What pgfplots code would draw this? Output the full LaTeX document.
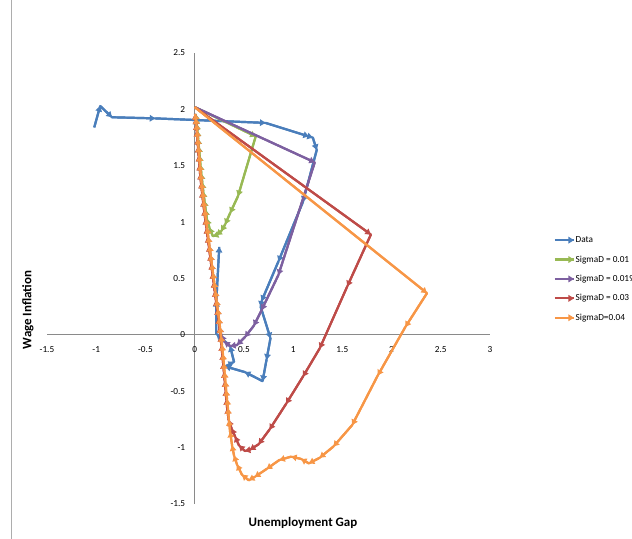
\documentclass[border=0pt]{standalone}
\usepackage{pgfplots}
\pgfplotsset{compat=1.18}
\usepackage{fontspec}
\setmainfont{Carlito}
\usetikzlibrary{decorations.pathreplacing, arrows.meta}
\definecolor{cData}{HTML}{4A7EBB}
\definecolor{cG}{HTML}{98B954}
\definecolor{cP}{HTML}{7D60A0}
\definecolor{cR}{HTML}{BE4B48}
\definecolor{cO}{HTML}{F79646}
\definecolor{axgray}{HTML}{8A8A8A}
\tikzset{
 seg/.style={line width=2.2bp, line join=round, postaction={decorate},
  decoration={show path construction,
   lineto code={\draw[#1, line width=2.2bp, line join=round, -{Triangle[length=5.5bp,width=6.5bp]}] (\tikzinputsegmentfirst) -- (\tikzinputsegmentlast);}}}
}
\begin{document}
\begin{tikzpicture}[x=1bp,y=1bp]
\path[use as bounding box] (0,0) rectangle (632,539);
\draw[axgray!70, line width=0.6bp] (11,0) -- (11,539);
\begin{axis}[
  at={(47bp,35bp)}, anchor=south west,
  scale only axis, width=443bp, height=451bp,
  xmin=-1.5, xmax=3, ymin=-1.5, ymax=2.5,
  axis lines=middle,
  axis line style={draw=axgray, line width=0.75bp, -},
  hide obscured x ticks=false, hide obscured y ticks=false,
  xtick={-1.5,-1,-0.5,0,0.5,1,1.5,2,2.5,3},
  xticklabels={-1.5,-1,-0.5,0,0.5,1,1.5,2,2.5,3},
  ytick={-1.5,-1,-0.5,0,0.5,1,1.5,2,2.5},
  yticklabels={-1.5,-1,-0.5,0,0.5,1,1.5,2,2.5},
  major tick length=0pt,
  tick label style={font=\fontsize{9.3}{11}\selectfont, text=black},
  xticklabel style={anchor=north, yshift=-8bp},
  yticklabel style={anchor=east, xshift=-6bp},
  legend image code/.code={\draw[#1] (0bp,0bp) -- (19bp,0bp);},
  legend style={at={(1.137,0.499)}, anchor=west, draw=none, fill=none,
    font=\fontsize{9.3}{11}\selectfont, row sep=9.2bp,
    nodes={inner sep=0.6bp, text height=7bp, text depth=2bp}},
  legend cell align=left,
]
% Data
\addplot[color=cData, seg=cData] coordinates {
(-1.02,1.84) (-0.96,2.03) (-0.84,1.93) (-0.40,1.92) (0.72,1.88) (1.16,1.76)
(1.20,1.75) (1.24,1.64) (1.10,1.18) (0.85,0.65) (0.68,0.30) (0.67,0.25)
(0.77,-0.03) (0.73,-0.22) (0.69,-0.41) (0.51,-0.33) (0.31,-0.28) (0.40,-0.24)
(0.36,-0.10) (0.22,0.01) (0.22,0.30) (0.25,0.78)
};
\addlegendentry{Data}
% SigmaD = 0.01
\addplot[color=cG, seg=cG] coordinates {
(0,2.02) (0.62,1.76) (0.44,1.23) (0.36,1.08) (0.31,0.98) (0.27,0.92)
(0.22,0.885) (0.185,0.875) (0.15,0.95) (0.124,1.03) (0.112,1.11) (0.10,1.19)
(0.088,1.27) (0.078,1.35) (0.068,1.43) (0.059,1.51) (0.051,1.59) (0.043,1.67)
(0.036,1.74) (0.029,1.81) (0.022,1.87) (0.015,1.92) (0.009,1.96)
};
\addlegendentry{SigmaD = 0.01}
% SigmaD = 0.0195
\addplot[color=cP, seg=cP] coordinates {
(0,2.02) (1.22,1.53) (0.85,0.53) (0.68,0.22) (0.60,0.08) (0.51,-0.02)
(0.43,-0.09) (0.36,-0.10) (0.30,-0.06) (0.27,0.0) (0.252,0.07) (0.242,0.15)
(0.232,0.23) (0.22,0.31) (0.208,0.39) (0.196,0.47) (0.184,0.55) (0.172,0.63)
(0.16,0.71) (0.148,0.79) (0.136,0.87) (0.124,0.95) (0.112,1.03) (0.10,1.11)
(0.088,1.19) (0.078,1.27) (0.068,1.35) (0.059,1.43) (0.051,1.51) (0.043,1.59)
(0.036,1.67) (0.029,1.74) (0.022,1.81) (0.015,1.87) (0.009,1.92) (0.004,1.96)
};
\addlegendentry{SigmaD = 0.0195}
% SigmaD = 0.03
\addplot[color=cR, seg=cR] coordinates {
(0,2.02) (1.79,0.89) (1.55,0.43) (1.27,-0.12) (1.10,-0.37) (0.93,-0.61)
(0.76,-0.84) (0.65,-0.97) (0.56,-1.02) (0.51,-1.03) (0.45,-0.98) (0.41,-0.90)
(0.375,-0.83) (0.345,-0.755) (0.33,-0.65) (0.321,-0.57) (0.313,-0.49) (0.305,-0.41)
(0.297,-0.33) (0.289,-0.25) (0.28,-0.17) (0.271,-0.09) (0.261,-0.01) (0.25,0.07)
(0.239,0.15) (0.227,0.23) (0.215,0.31) (0.203,0.39) (0.191,0.47) (0.179,0.55)
(0.167,0.63) (0.155,0.71) (0.143,0.79) (0.131,0.87) (0.119,0.95) (0.107,1.03)
(0.095,1.11) (0.084,1.19) (0.074,1.27) (0.064,1.35) (0.055,1.43) (0.047,1.51)
(0.04,1.59) (0.033,1.67) (0.027,1.74) (0.02,1.81) (0.014,1.87) (0.008,1.92) (0.004,1.96)
};
\addlegendentry{SigmaD = 0.03}
% SigmaD = 0.04
\addplot[color=cO, seg=cO] coordinates {
(0,2.02) (2.36,0.37) (2.14,0.07) (1.86,-0.36) (1.60,-0.80) (1.41,-0.99)
(1.27,-1.09) (1.16,-1.14) (1.08,-1.10) (0.98,-1.08) (0.86,-1.11) (0.73,-1.19)
(0.61,-1.26) (0.55,-1.29) (0.48,-1.24) (0.43,-1.15) (0.40,-1.07) (0.38,-0.98)
(0.36,-0.86) (0.348,-0.755) (0.338,-0.65) (0.329,-0.57) (0.32,-0.49) (0.312,-0.41)
(0.304,-0.33) (0.296,-0.25) (0.287,-0.17) (0.278,-0.09) (0.268,-0.01) (0.257,0.07)
(0.246,0.15) (0.234,0.23) (0.222,0.31) (0.21,0.39) (0.198,0.47) (0.186,0.55)
(0.174,0.63) (0.162,0.71) (0.15,0.79) (0.138,0.87) (0.126,0.95) (0.114,1.03)
(0.102,1.11) (0.09,1.19) (0.08,1.27) (0.07,1.35) (0.061,1.43) (0.053,1.51)
(0.045,1.59) (0.038,1.67) (0.031,1.74) (0.024,1.81) (0.017,1.87) (0.01,1.92) (0.005,1.96)
};
\addlegendentry{SigmaD=0.04}
\end{axis}
\node[font=\bfseries\fontsize{13}{15}\selectfont] at (303,16) {Unemployment Gap};
\node[font=\bfseries\fontsize{13}{15}\selectfont, rotate=90] at (28,229) {Wage Inflation};
\end{tikzpicture}
\end{document}
